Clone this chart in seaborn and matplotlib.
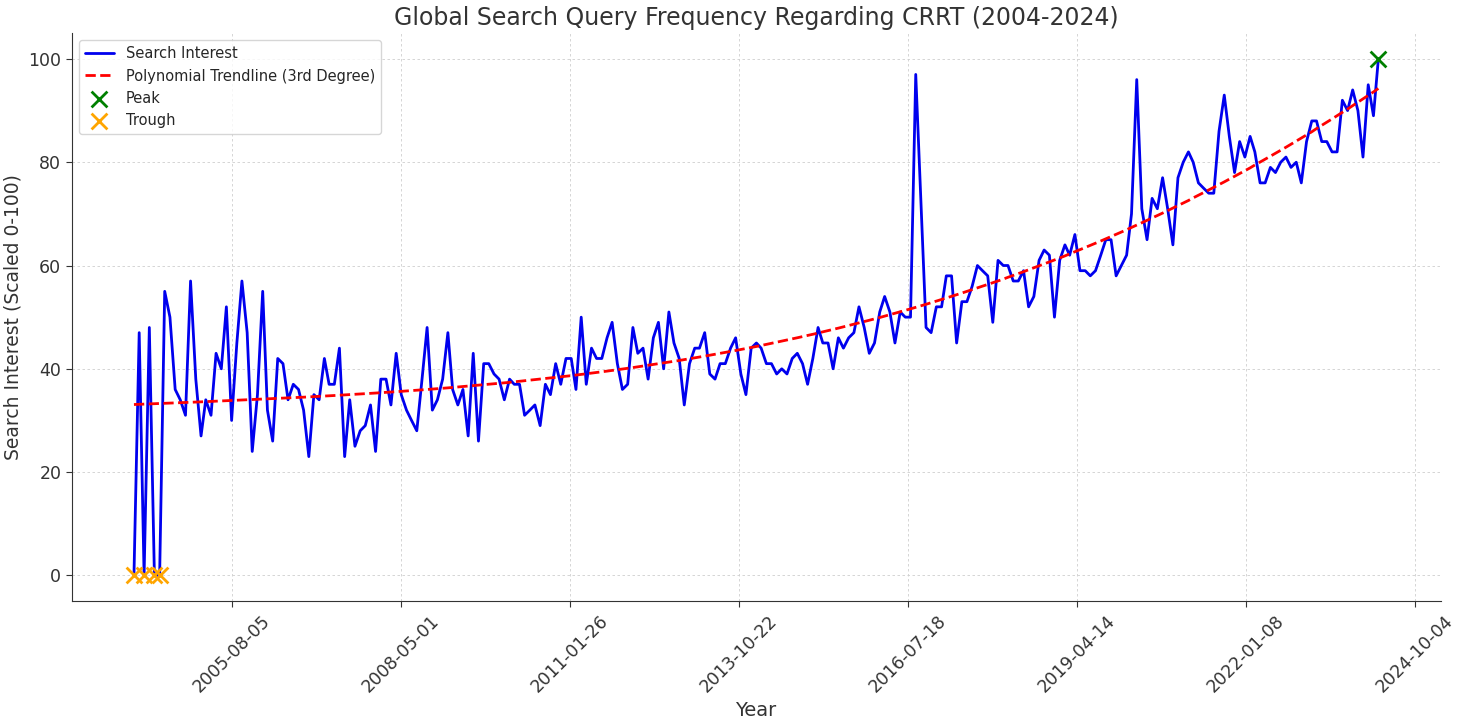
#Global search interest for CRRT, monthly, with cubic trendline

import numpy as np
import pandas as pd
import matplotlib
matplotlib.use("Agg")
import matplotlib.pyplot as plt
import matplotlib.dates as mdates
from matplotlib.ticker import MultipleLocator
import seaborn as sns

# monthly values, Jan 2004 .. Mar 2024
start_month = "2004-01-01"
interest = [
    0, 47, 0, 48, 0, 0, 55, 50, 36, 34, 31, 57,
    38, 27, 34, 31, 43, 40, 52, 30, 45, 57, 47, 24,
    35, 55, 32, 26, 42, 41, 34, 37, 36, 32, 23, 35,
    34, 42, 37, 37, 44, 23, 34, 25, 28, 29, 33, 24,
    38, 38, 33, 43, 35, 32, 30, 28, 38, 48, 32, 34,
    38, 47, 36, 33, 36, 27, 43, 26, 41, 41, 39, 38,
    34, 38, 37, 37, 31, 32, 33, 29, 37, 35, 41, 37,
    42, 42, 36, 50, 37, 44, 42, 42, 46, 49, 41, 36,
    37, 48, 43, 44, 38, 46, 49, 40, 51, 45, 42, 33,
    41, 44, 44, 47, 39, 38, 41, 41, 44, 46, 39, 35,
    44, 45, 44, 41, 41, 39, 40, 39, 42, 43, 41, 37,
    42, 48, 45, 45, 40, 46, 44, 46, 47, 52, 48, 43,
    45, 51, 54, 51, 45, 51, 50, 50, 97, 73, 48, 47,
    52, 52, 58, 58, 45, 53, 53, 56, 60, 59, 58, 49,
    61, 60, 60, 57, 57, 59, 52, 54, 61, 63, 62, 50,
    61, 64, 62, 66, 59, 59, 58, 59, 62, 65, 65, 58,
    60, 62, 70, 96, 71, 65, 73, 71, 77, 71, 64, 77,
    80, 82, 80, 76, 75, 74, 74, 86, 93, 85, 78, 84,
    81, 85, 82, 76, 76, 79, 78, 80, 81, 79, 80, 76,
    84, 88, 88, 84, 84, 82, 82, 92, 90, 94, 90, 81,
    95, 89, 100,
]

dates = pd.date_range(start_month, periods=len(interest), freq="MS")
df = pd.DataFrame({"date": mdates.date2num(dates), "interest": interest})

# cubic fit over the month index
idx = np.arange(len(df))
coef = np.polyfit(idx, df["interest"], 3)
df["trend"] = np.polyval(coef, idx)

peak = df[df["interest"] == df["interest"].max()]
trough = df[df["interest"] == df["interest"].min()]

sns.set_style("whitegrid", {
    "grid.linestyle": "--",
    "grid.color": "#cfcfcf",
    "axes.edgecolor": "#333333",
    "xtick.bottom": True,
    "ytick.left": True,
})
plt.rcParams["font.family"] = ["DejaVu Sans"]

fig, ax = plt.subplots(figsize=(14.64, 7.2), dpi=100)
sns.lineplot(data=df, x="date", y="interest", color="#0000ee", linewidth=2,
             label="Search Interest", ax=ax)
sns.lineplot(data=df, x="date", y="trend", color="red", linewidth=2, linestyle="--",
             label="Polynomial Trendline (3rd Degree)", ax=ax)
sns.scatterplot(data=peak, x="date", y="interest", color="green", marker="x",
                s=130, linewidth=2, label="Peak", ax=ax, zorder=5)
sns.scatterplot(data=trough, x="date", y="interest", color="orange", marker="x",
                s=130, linewidth=2, label="Trough", ax=ax, zorder=5)

ax.xaxis.set_major_locator(MultipleLocator(1000))
ax.xaxis.set_major_formatter(mdates.DateFormatter("%Y-%m-%d"))
ax.grid(True, linewidth=0.6, dashes=(3, 3))
plt.xticks(rotation=45)
ax.tick_params(labelsize=12.5, colors="#333333", length=4)

ax.set_title("Global Search Query Frequency Regarding CRRT (2004-2024)", fontsize=17, color="#333333")
ax.set_xlabel("Year", fontsize=14, color="#333333")
ax.set_ylabel("Search Interest (Scaled 0-100)", fontsize=13.5, color="#333333")
ax.legend(loc="upper left", fontsize=10.5)
sns.despine()

plt.subplots_adjust(left=0.049, right=0.984, top=0.954, bottom=0.165)
plt.savefig("out.png")
